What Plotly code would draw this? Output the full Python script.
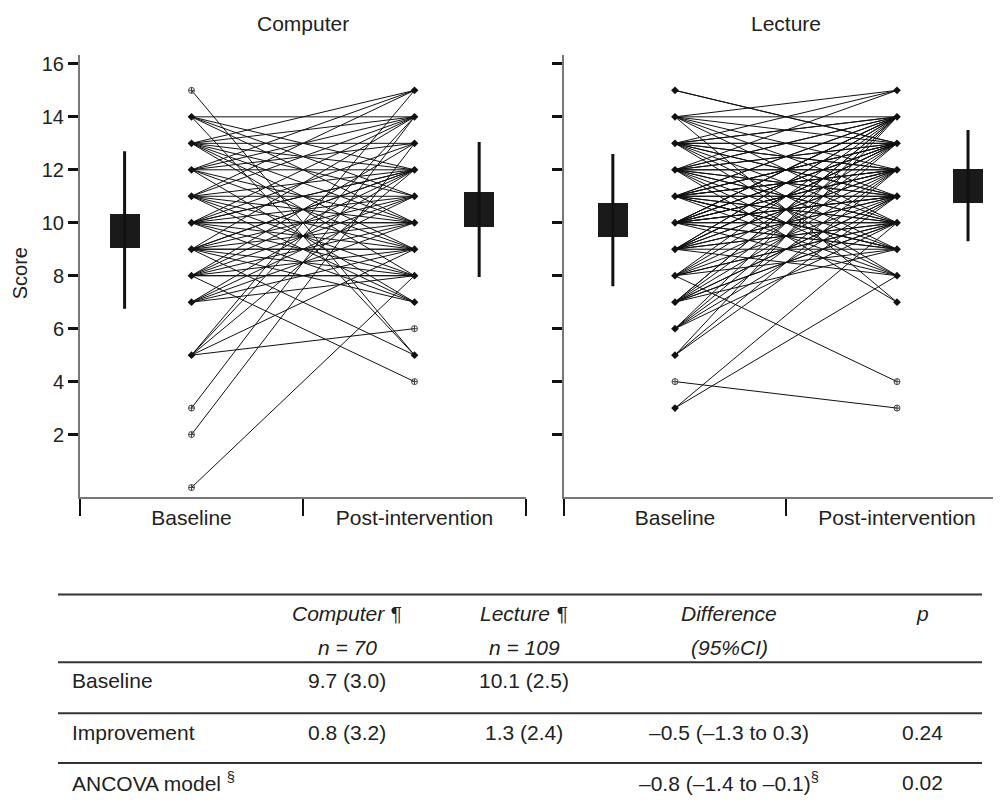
import plotly.graph_objects as go
from collections import Counter

W, H = 1001, 805
OFF = 8  # default page body margin
FW, FH = W - OFF, H - OFF
FONT = "Liberation Sans, Arial, Helvetica, sans-serif"

# ---------------- data ----------------
time_labels = ["Baseline", "Post-intervention"]
panel_titles = ["Computer", "Lecture"]
score_ticks = [2, 4, 6, 8, 10, 12, 14, 16]

computer_baseline = [
    15,
    14, 14, 14, 14, 14,
    13, 13, 13, 13, 13, 13, 13, 13,
    12, 12, 12, 12, 12, 12, 12,
    11, 11, 11, 11, 11, 11, 11, 11,
    10, 10, 10, 10, 10, 10, 10, 10, 10, 10,
    9, 9, 9, 9, 9, 9, 9, 9, 9, 9,
    8, 8, 8, 8, 8, 8, 8, 8,
    7, 7, 7, 7, 7,
    5, 5, 5, 5, 5,
    3, 2, 0,
]
computer_post = [
    5,
    14, 12, 11, 10, 5,
    15, 14, 13, 12, 11, 10, 9, 8,
    15, 14, 13, 12, 10, 9, 7,
    15, 14, 12, 11, 10, 9, 8, 7,
    14, 13, 12, 12, 11, 10, 10, 9, 8, 7,
    14, 12, 12, 11, 10, 9, 9, 8, 7, 5,
    13, 12, 11, 10, 9, 8, 8, 4,
    12, 11, 10, 9, 8,
    15, 14, 12, 9, 6,
    14, 13, 8,
]

lecture_baseline = [
    15, 15,
    14, 14, 14, 14, 14, 14, 14,
    13, 13, 13, 13, 13, 13, 13, 13, 13, 13, 13, 13,
    12, 12, 12, 12, 12, 12, 12, 12, 12, 12, 12, 12, 12, 12,
    11, 11, 11, 11, 11, 11, 11, 11, 11, 11, 11, 11, 11, 11, 11, 11,
    10, 10, 10, 10, 10, 10, 10, 10, 10, 10, 10, 10, 10, 10, 10, 10, 10,
    9, 9, 9, 9, 9, 9, 9, 9, 9, 9, 9, 9, 9,
    8, 8, 8, 8, 8, 8, 8, 8,
    7, 7, 7, 7, 7, 7, 7, 7, 7,
    6, 6, 6, 6, 6,
    5, 5, 5,
    4,
    3, 3,
]
lecture_post = [
    13, 13,
    15, 14, 13, 12, 11, 10, 7,
    15, 14, 14, 13, 13, 12, 12, 11, 11, 10, 9, 8,
    15, 14, 14, 13, 13, 12, 12, 11, 11, 10, 10, 9, 8, 7,
    14, 14, 13, 13, 13, 12, 12, 12, 11, 11, 10, 10, 9, 9, 9, 8,
    14, 14, 14, 13, 13, 13, 12, 12, 12, 11, 11, 11, 10, 10, 9, 9, 8,
    14, 14, 13, 13, 13, 12, 12, 11, 11, 10, 10, 9, 8,
    14, 13, 12, 11, 10, 10, 9, 4,
    14, 14, 13, 12, 11, 11, 10, 10, 9,
    14, 13, 12, 11, 10,
    14, 12, 11,
    3,
    8, 10,
]

# summary boxes: box = 95% CI of mean, whisker = mean +/- SD
computer_box_lo = [9.05, 9.85]
computer_box_hi = [10.35, 11.15]
computer_wh_lo = [6.75, 7.95]
computer_wh_hi = [12.7, 13.05]
lecture_box_lo = [9.45, 10.75]
lecture_box_hi = [10.75, 12.05]
lecture_wh_lo = [7.6, 9.3]
lecture_wh_hi = [12.6, 13.5]

# table
table_col_headers = ["Computer \u00b6", "Lecture \u00b6", "Difference", "p"]
table_col_sub = ["n = 70", "n = 109", "(95%CI)", ""]
table_row_labels = ["Baseline", "Improvement", "ANCOVA model <sup>\u00a7</sup>"]
table_cells = [
    ["9.7 (3.0)", "10.1 (2.5)", "", ""],
    ["0.8 (3.2)", "1.3 (2.4)", "\u20130.5 (\u20131.3 to 0.3)", "0.24"],
    ["", "", "\u20130.8 (\u20131.4 to \u20130.1)<sup>\u00a7</sup>", "0.02"],
]

# ---------------- layout helpers (screen px -> paper) ----------------
def px_x(p):
    return (p - OFF) / FW

def px_y(p):
    return 1 - (p - OFF) / FH

X_POS = [0.5, 1.5]  # category centres on numeric axis
BOX_X = {"Computer": [0.20, 1.79], "Lecture": [0.22, 1.82]}
BOX_W = 0.135

fig = go.Figure()

panels = [
    ("Computer", computer_baseline, computer_post, computer_box_lo, computer_box_hi,
     computer_wh_lo, computer_wh_hi, "x", "y"),
    ("Lecture", lecture_baseline, lecture_post, lecture_box_lo, lecture_box_hi,
     lecture_wh_lo, lecture_wh_hi, "x2", "y2"),
]

for name, base, post, blo, bhi, wlo, whi, xa, ya in panels:
    lx, ly = [], []
    for b, p in zip(base, post):
        lx += [X_POS[0], X_POS[1], None]
        ly += [b, p, None]
    fig.add_trace(go.Scatter(x=lx, y=ly, mode="lines", xaxis=xa, yaxis=ya,
                             line=dict(color="#111111", width=1), hoverinfo="skip",
                             showlegend=False))
    # markers: single subjects open, multiple filled
    for xi, vals in zip(X_POS, [base, post]):
        cnt = Counter(vals)
        ys = sorted(cnt)
        singles = [v for v in ys if cnt[v] == 1]
        multis = [v for v in ys if cnt[v] > 1]
        fig.add_trace(go.Scatter(x=[xi] * len(multis), y=multis, mode="markers",
                                 xaxis=xa, yaxis=ya, showlegend=False,
                                 marker=dict(symbol="diamond", size=6, color="#111111")))
        fig.add_trace(go.Scatter(x=[xi] * len(singles), y=singles, mode="markers",
                                 xaxis=xa, yaxis=ya, showlegend=False,
                                 marker=dict(symbol="circle-cross-open", size=6,
                                             color="#444444", line=dict(width=1))))
    # whiskers
    wx, wy = [], []
    for c, lo, hi in zip(BOX_X[name], wlo, whi):
        wx += [c, c, None]
        wy += [lo, hi, None]
    fig.add_trace(go.Scatter(x=wx, y=wy, mode="lines", xaxis=xa, yaxis=ya,
                             line=dict(color="#111111", width=3), showlegend=False))
    # boxes
    fig.add_trace(go.Bar(x=BOX_X[name], y=[h - l for l, h in zip(blo, bhi)], base=blo,
                         width=BOX_W, xaxis=xa, yaxis=ya, showlegend=False,
                         marker=dict(color="#1a1a1a", line=dict(width=0))))

Y_DOM = [px_y(496), px_y(53)]
Y_RANGE = [-0.35, 16.34]

common_x = dict(showline=True, linecolor="#777777", linewidth=2, showgrid=False,
                zeroline=False, tickmode="array", tickvals=X_POS, ticktext=time_labels,
                ticks="", ticklabelstandoff=1,
                tickfont=dict(family=FONT, size=21, color="#222222"),
                minor=dict(tickmode="array", tickvals=[0, 1, 2], ticks="outside",
                           ticklen=17, tickwidth=2, tickcolor="#111111", showgrid=False),
                fixedrange=True)
common_y = dict(showline=True, linecolor="#777777", linewidth=2, showgrid=False,
                zeroline=False, tickmode="array", tickvals=score_ticks, ticks="outside",
                ticklen=10, tickwidth=3, tickcolor="#111111", range=Y_RANGE,
                domain=Y_DOM, tickfont=dict(family=FONT, size=20, color="#222222"),
                fixedrange=True)

fig.update_layout(
    width=FW, height=FH,
    margin=dict(l=0, r=0, t=0, b=0),
    paper_bgcolor="white", plot_bgcolor="white",
    barmode="overlay", bargap=0,
    font=dict(family=FONT, color="#222222"),
    xaxis=dict(common_x, domain=[px_x(80), px_x(526)], range=[0, 2], anchor="y"),
    xaxis2=dict(common_x, domain=[px_x(564), 1.0], range=[0, (W - 564) / 222], anchor="y2"),
    yaxis=dict(common_y, anchor="x"),
    yaxis2=dict(common_y, anchor="x2", showticklabels=False),
)

TXT = dict(family=FONT, size=21, color="#222222")
ann = []
# panel titles
for t, cx in zip(panel_titles, [303, 786]):
    ann.append(dict(text=t, x=px_x(cx), y=px_y(22), xref="paper", yref="paper",
                    showarrow=False, xanchor="center", yanchor="middle", font=TXT))
# y label
ann.append(dict(text="Score", x=px_x(20), y=px_y(272), xref="paper", yref="paper",
                showarrow=False, textangle=-90, xanchor="center", yanchor="middle",
                font=dict(family=FONT, size=20, color="#222222")))

# table
col_cx = [347, 524, 729, 922]
row_y = [680, 732, 782]
head_y = [613, 647]
line_y = [594, 662, 713, 763]
for j, cx in enumerate(col_cx):
    for txt, yy in zip([table_col_headers[j], table_col_sub[j]], head_y):
        if txt:
            ann.append(dict(text=f"<i>{txt}</i>", x=px_x(cx), y=px_y(yy), xref="paper",
                            yref="paper", showarrow=False, xanchor="center",
                            yanchor="middle", font=TXT))
for i, yy in enumerate(row_y):
    ann.append(dict(text=table_row_labels[i], x=px_x(70), y=px_y(yy), xref="paper",
                    yref="paper", showarrow=False, xanchor="left", yanchor="middle",
                    font=TXT))
    for j, cx in enumerate(col_cx):
        if table_cells[i][j]:
            ann.append(dict(text=table_cells[i][j], x=px_x(cx), y=px_y(yy), xref="paper",
                            yref="paper", showarrow=False, xanchor="center",
                            yanchor="middle", font=TXT))

shapes = []
for ly_ in line_y:
    shapes.append(dict(type="line", xref="paper", yref="paper", x0=px_x(58), x1=px_x(982),
                       y0=px_y(ly_), y1=px_y(ly_), line=dict(color="#333333", width=2)))

fig.update_layout(annotations=ann, shapes=shapes)

fig.write_html("out.html")
